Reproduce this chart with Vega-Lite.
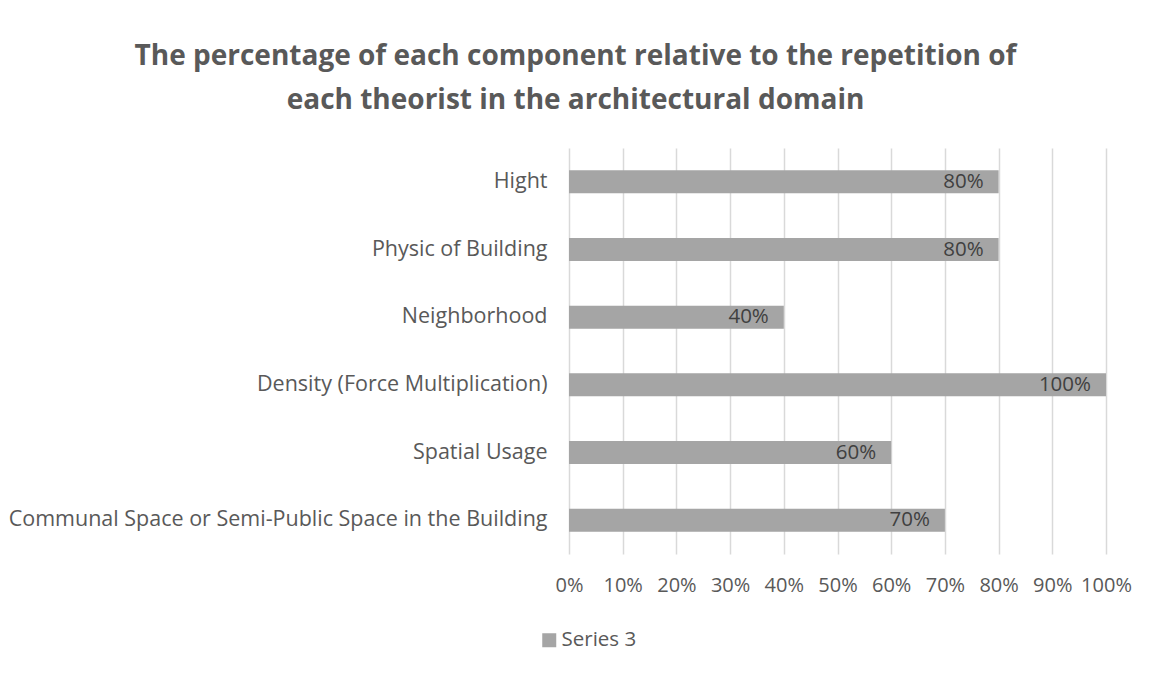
{
  "$schema": "https://vega.github.io/schema/vega-lite/v6.json",
  "width": 537,
  "height": 406,
  "autosize": {"type": "none"},
  "padding": {"left": 569, "top": 148, "right": 46, "bottom": 121},
  "background": "white",
  "title": {
    "text": ["The percentage of each component relative to the repetition of", "each theorist in the architectural domain"],
    "anchor": "middle",
    "dx": -262,
    "offset": 33,
    "font": "Open Sans",
    "fontSize": 28,
    "fontWeight": "bold",
    "color": "#595959",
    "lineHeight": 44
  },
  "config": {
    "view": {"stroke": null},
    "font": "Open Sans"
  },
  "data": {
    "values": [
      {"component": "Hight", "value": 0.8, "series": "Series 3"},
      {"component": "Physic of Building", "value": 0.8, "series": "Series 3"},
      {"component": "Neighborhood ", "value": 0.4, "series": "Series 3"},
      {"component": "Density (Force Multiplication)", "value": 1.0, "series": "Series 3"},
      {"component": "Spatial Usage", "value": 0.6, "series": "Series 3"},
      {"component": "Communal Space or Semi-Public Space in the Building", "value": 0.7, "series": "Series 3"}
    ]
  },
  "encoding": {
    "y": {
      "field": "component",
      "type": "nominal",
      "sort": null,
      "scale": {"paddingInner": 0.66, "paddingOuter": 0.33},
      "axis": {
        "title": null,
        "domain": false,
        "ticks": false,
        "labelPadding": 22,
        "labelFontSize": 21.5,
        "labelColor": "#595959",
        "labelFont": "Open Sans",
        "labelLimit": 700
      }
    },
    "x": {
      "field": "value",
      "type": "quantitative",
      "scale": {"domain": [0, 1]},
      "axis": {
        "title": null,
        "format": ".0%",
        "values": [0, 0.1, 0.2, 0.3, 0.4, 0.5, 0.6, 0.7, 0.8, 0.9, 1.0],
        "domain": false,
        "ticks": false,
        "grid": true,
        "gridColor": "#D9D9D9",
        "gridWidth": 1.5,
        "labelPadding": 21,
        "labelFontSize": 20,
        "labelColor": "#595959",
        "labelFont": "Open Sans",
        "labelFlush": false
      }
    }
  },
  "layer": [
    {
      "mark": {"type": "bar", "color": "#A5A5A5"},
      "encoding": {
        "color": {
          "field": "series",
          "type": "nominal",
          "scale": {"range": ["#A5A5A5"]},
          "legend": {
            "title": null,
            "orient": "none",
            "legendX": -30,
            "legendY": 482,
            "symbolType": "square",
            "symbolSize": 196,
            "symbolStrokeWidth": 0,
            "labelFontSize": 20.5,
            "labelColor": "#595959",
            "labelFont": "Open Sans",
            "labelOffset": 2
          }
        }
      }
    },
    {
      "mark": {"type": "text", "align": "right", "baseline": "middle", "dx": -15, "fontSize": 20.5, "color": "#404040", "font": "Open Sans"},
      "encoding": {
        "text": {"field": "value", "type": "quantitative", "format": ".0%"}
      }
    }
  ]
}
